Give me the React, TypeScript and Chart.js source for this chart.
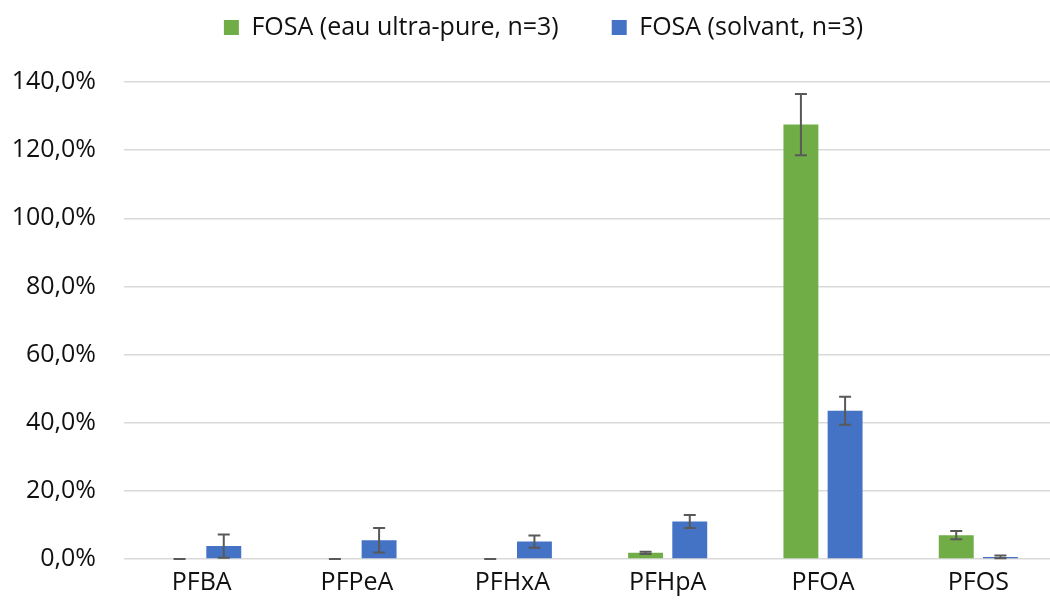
import React, { useEffect, useRef } from "react";
import { Chart, registerables } from "chart.js";

Chart.register(...registerables);

const categories = ["PFBA", "PFPeA", "PFHxA", "PFHpA", "PFOA", "PFOS"];
const seriesLabels = ["FOSA (eau ultra-pure, n=3)", "FOSA (solvant, n=3)"];
const ultraPure = [0, 0, 0, 1.8, 127.5, 7.0];
const ultraPureErr = [0, 0, 0, 0.3, 9.0, 1.2];
const solvant = [3.8, 5.5, 5.1, 11.0, 43.5, 0.6];
const solvantErr = [3.4, 3.6, 1.8, 1.9, 4.1, 0.4];
const yTicks = [0, 20, 40, 60, 80, 100, 120, 140];

const FONT = "'Open Sans', sans-serif";
const TEXT = "#111111";

const errorBarPlugin = {
  id: "errorBars",
  afterDatasetsDraw(chart: any) {
    const ctx = chart.ctx;
    const yScale = chart.scales.y;
    chart.data.datasets.forEach((ds: any, di: number) => {
      const meta = chart.getDatasetMeta(di);
      const errs: number[] = ds.errors || [];
      meta.data.forEach((bar: any, i: number) => {
        const v = ds.data[i];
        const e = errs[i] || 0;
        const x = bar.x;
        const yTop = yScale.getPixelForValue(v + e);
        const yBot = yScale.getPixelForValue(Math.max(0, v - e));
        const cap = 6;
        ctx.save();
        ctx.strokeStyle = "#595959";
        ctx.lineWidth = 2;
        ctx.beginPath();
        ctx.moveTo(x, yTop);
        ctx.lineTo(x, yBot);
        ctx.moveTo(x - cap, yTop);
        ctx.lineTo(x + cap, yTop);
        ctx.moveTo(x - cap, yBot);
        ctx.lineTo(x + cap, yBot);
        ctx.stroke();
        ctx.restore();
      });
    });
  },
};

const legendSpacePlugin = {
  id: "legendSpace",
  beforeInit(chart: any) {
    const legend = chart.legend;
    if (!legend) return;
    const origFit = legend.fit;
    legend.fit = function () {
      origFit.call(this);
      this.height = this.height + 32;
    };
  },
  afterLayout(chart: any) {
    const legend = chart.legend;
    if (!legend) return;
    legend.left += 15.5;
    legend.right += 15.5;
  },
};

export default function App() {
  const ref = useRef<HTMLCanvasElement>(null);

  useEffect(() => {
    document.body.style.margin = "0";
    document.body.style.overflow = "hidden";
    const chart = new Chart(ref.current!, {
      type: "bar",
      data: {
        labels: categories,
        datasets: [
          {
            label: seriesLabels[0],
            data: ultraPure,
            errors: ultraPureErr,
            backgroundColor: "#70ad47",
            borderWidth: 0,
          } as any,
          {
            label: seriesLabels[1],
            data: solvant,
            errors: solvantErr,
            backgroundColor: "#4472c4",
            borderWidth: 0,
          } as any,
        ],
      },
      options: {
        responsive: false,
        animation: false,
        devicePixelRatio: 1,
        layout: { padding: { top: -38, left: 0, right: 0, bottom: -1 } },
        datasets: {
          bar: { categoryPercentage: 0.569, barPercentage: 0.79 },
        },
        plugins: {
          tooltip: { enabled: false },
          legend: {
            position: "top",
            labels: {
              boxWidth: 15,
              boxHeight: 15,
              padding: 53,
              color: TEXT,
              font: { family: FONT, size: 25 },
            },
          },
        },
        scales: {
          x: {
            grid: { display: false, drawTicks: false },
            border: { display: false },
            ticks: {
              color: TEXT,
              padding: 9,
              font: { family: FONT, size: 25 },
            },
          },
          y: {
            min: 0,
            max: 140,
            afterFit(scale: any) {
              scale.width = 124;
            },
            afterBuildTicks(scale: any) {
              scale.ticks = yTicks.map((v) => ({ value: v }));
            },
            grid: { color: "#d9d9d9", lineWidth: 1.5, drawTicks: false },
            border: { display: false },
            ticks: {
              color: TEXT,
              padding: 28,
              font: { family: FONT, size: 25 },
              callback: (v: any) => Number(v).toFixed(1).replace(".", ",") + "%",
            },
          },
        },
      },
      plugins: [errorBarPlugin, legendSpacePlugin],
    });
    return () => chart.destroy();
  }, []);

  return (
    <div style={{ width: 1056, height: 606, overflow: "hidden" }}>
      <canvas ref={ref} width={1056} height={606} style={{ display: "block" }} />
    </div>
  );
}
